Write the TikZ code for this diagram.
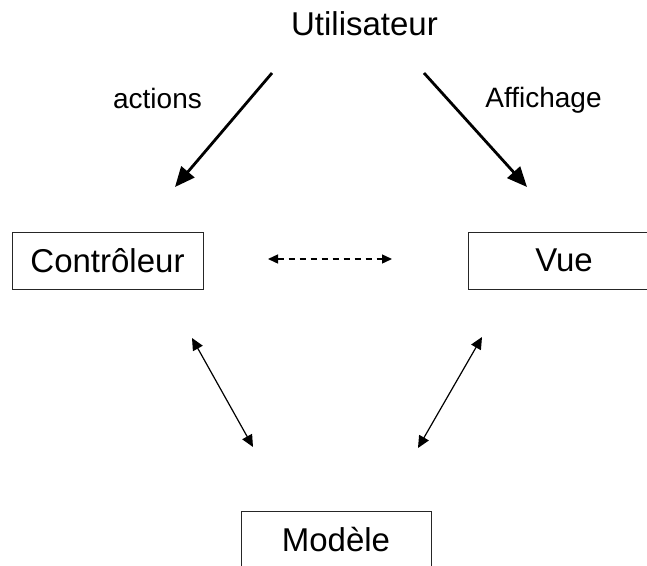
\documentclass[tikz,border=0pt]{standalone}
\usepackage{fontspec}
\setmainfont{Liberation Sans}
\usetikzlibrary{arrows.meta}
\begin{document}
\begin{tikzpicture}[x=1pt,y=-1pt,
  box/.style={draw=black!85, line width=1pt, inner sep=0pt, font=\fontsize{33}{38}\selectfont},
  lbl/.style={inner sep=0pt, font=\fontsize{28}{33}\selectfont},
  bigarrow/.style={line width=2.8pt, -{Triangle[length=20pt,width=17pt]}},
  smallarrow/.style={line width=1.2pt, {Triangle[length=12pt,width=11pt]}-{Triangle[length=12pt,width=11pt]}},
  dasharrow/.style={line width=1.4pt, dash pattern=on 6pt off 5pt, {Triangle[length=10pt,width=9pt]}-{Triangle[length=10pt,width=9pt]}}]
\useasboundingbox (0,0) rectangle (647,565);
\clip (0,0) rectangle (647,565);
\fill[white] (0,0) rectangle (647,565);
% nodes
\node[lbl, font=\fontsize{33}{38}\selectfont, anchor=base] (user) at (364.5,35) {Utilisateur};
\node[lbl, anchor=base] (actions) at (157.5,108) {actions};
\node[lbl, anchor=base] (affichage) at (543.5,107) {Affichage};
\node[box, minimum width=191pt, minimum height=57pt] (ctrl) at (107.5,260.5) {Contrôleur};
\node[box, minimum width=192pt, minimum height=57pt] (vue) at (564,260.5) {Vue};
\node[box, minimum width=190pt, minimum height=58pt] (modele) at (336,540) {Modèle};
% coordinates for free-floating connectors
\coordinate (ua1) at (272,73);
\coordinate (ua2) at (175,187);
\coordinate (ub1) at (424,73);
\coordinate (ub2) at (527,187);
\coordinate (cv1) at (268,259);
\coordinate (cv2) at (392,259);
\coordinate (cm1) at (192,338);
\coordinate (cm2) at (253,447);
\coordinate (vm1) at (482,337);
\coordinate (vm2) at (418,448);
% connectors
\draw[bigarrow] (ua1) -- (ua2);
\draw[bigarrow] (ub1) -- (ub2);
\draw[dasharrow] (cv1) -- (cv2);
\draw[smallarrow] (cm1) -- (cm2);
\draw[smallarrow] (vm1) -- (vm2);
\end{tikzpicture}
\end{document}
